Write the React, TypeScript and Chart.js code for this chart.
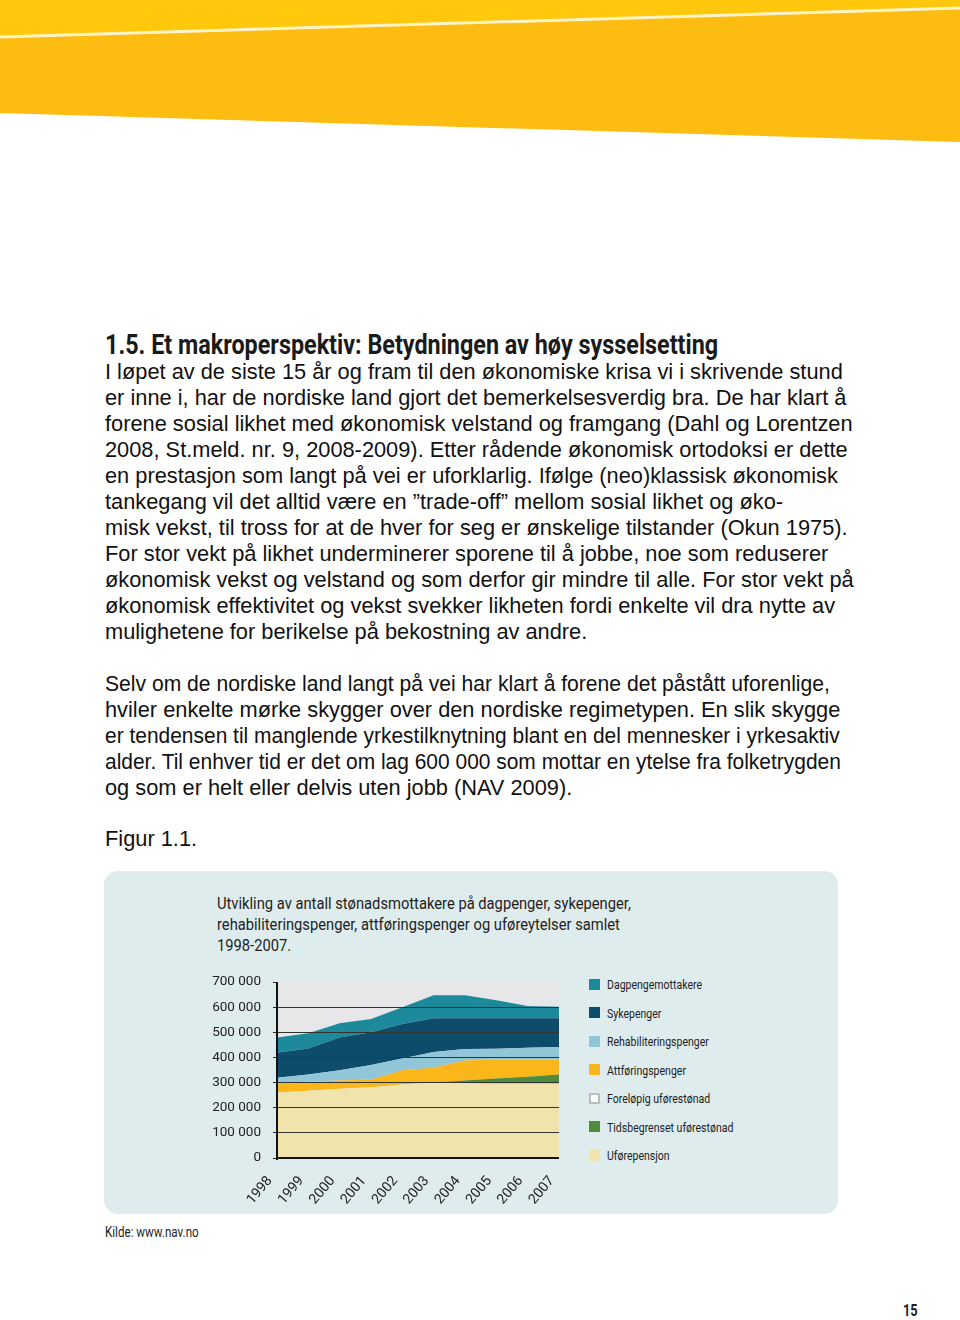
import React, { useEffect, useRef } from 'react';
import { Chart, registerables } from 'chart.js';

Chart.register(...registerables);

// ---------- data ----------
const years = ['1998', '1999', '2000', '2001', '2002', '2003', '2004', '2005', '2006', '2007'];
const uforepensjon = [261000, 267000, 275000, 281000, 292000, 300000, 297000, 296000, 296000, 296000];
const tidsbegrenset = [0, 0, 0, 0, 0, 0, 11000, 20000, 27000, 36000];
const forelopig = [0, 0, 0, 0, 0, 0, 0, 0, 0, 0];
const attforing = [31000, 36000, 33000, 31000, 57000, 59000, 80000, 76000, 69000, 60000];
const rehabilitering = [27000, 29000, 41000, 58000, 47000, 63000, 46000, 43000, 46000, 49000];
const sykepenger = [100000, 104000, 130000, 130000, 137000, 134000, 122000, 121000, 118000, 115000];
const dagpenger = [60000, 60000, 57000, 53000, 67000, 91000, 91000, 71000, 49000, 46000];

const seriesNames = [
  'Uførepensjon',
  'Tidsbegrenset uførestønad',
  'Foreløpig uførestønad',
  'Attføringspenger',
  'Rehabiliteringspenger',
  'Sykepenger',
  'Dagpengemottakere',
];
const seriesValues = [uforepensjon, tidsbegrenset, forelopig, attforing, rehabilitering, sykepenger, dagpenger];
const seriesColors = ['#F0E3AC', '#4E8B3A', '#FFFFFF', '#FBB719', '#91C6D8', '#0D4C6A', '#1D8A9B'];

const yMax = 700000;
const yStep = 100000;

const chartTitleLines = [
  'Utvikling av antall stønadsmottakere på dagpenger, sykepenger,',
  'rehabiliteringspenger, attføringspenger og uføreytelser samlet',
  '1998-2007.',
];

const para1 = [
  'I løpet av de siste 15 år og fram til den økonomiske krisa vi i skrivende stund',
  'er inne i, har de nordiske land gjort det bemerkelsesverdig bra. De har klart å',
  'forene sosial likhet med økonomisk velstand og framgang (Dahl og Lorentzen',
  '2008, St.meld. nr. 9, 2008-2009). Etter rådende økonomisk ortodoksi er dette',
  'en prestasjon som langt på vei er uforklarlig. Ifølge (neo)klassisk økonomisk',
  'tankegang vil det alltid være en \u201Dtrade-off\u201D mellom sosial likhet og øko-',
  'misk vekst, til tross for at de hver for seg er ønskelige tilstander (Okun 1975).',
  'For stor vekt på likhet underminerer sporene til å jobbe, noe som reduserer',
  'økonomisk vekst og velstand og som derfor gir mindre til alle. For stor vekt på',
  'økonomisk effektivitet og vekst svekker likheten fordi enkelte vil dra nytte av',
  'mulighetene for berikelse på bekostning av andre.',
];

const para2 = [
  'Selv om de nordiske land langt på vei har klart å forene det påstått uforenlige,',
  'hviler enkelte mørke skygger over den nordiske regimetypen. En slik skygge',
  'er tendensen til manglende yrkestilknytning blant en del mennesker i yrkesaktiv',
  'alder. Til enhver tid er det om lag 600 000 som mottar en ytelse fra folketrygden',
  'og som er helt eller delvis uten jobb (NAV 2009).',
];
const para2Squeeze = [0.968, 1, 0.961, 0.961, 1];

const CF = "Roboto, 'Liberation Sans Narrow', sans-serif";
const BF = "'Liberation Sans', Arial, Helvetica, sans-serif";

const fmt = (v: number) => (v === 0 ? '0' : `${Math.round(v / 1000)} 000`);

function AreaChart() {
  const ref = useRef<HTMLCanvasElement | null>(null);
  useEffect(() => {
    if (!ref.current) return;
    const framePlugin = {
      id: 'plotFrame',
      beforeDraw(chart: any) {
        const { ctx, chartArea } = chart;
        ctx.save();
        ctx.fillStyle = '#E7E7E9';
        ctx.fillRect(chartArea.left, chartArea.top, chartArea.right - chartArea.left, chartArea.bottom - chartArea.top);
        ctx.restore();
      },
      afterDraw(chart: any) {
        const { ctx, chartArea } = chart;
        ctx.save();
        ctx.strokeStyle = '#111';
        ctx.lineWidth = 2;
        ctx.beginPath();
        ctx.moveTo(chartArea.left, chartArea.top);
        ctx.lineTo(chartArea.left, chartArea.bottom + 2);
        ctx.moveTo(chartArea.left - 1, chartArea.bottom);
        ctx.lineTo(chartArea.right, chartArea.bottom);
        ctx.stroke();
        ctx.restore();
      },
    };
    const chart = new Chart(ref.current, {
      type: 'line',
      data: {
        labels: years,
        datasets: seriesNames.map((name, i) => ({
          label: name,
          data: seriesValues[i],
          backgroundColor: seriesColors[i],
          borderColor: seriesColors[i],
          borderWidth: 0,
          pointRadius: 0,
          tension: 0,
          fill: i === 0 ? 'origin' : '-1',
          stack: 'all',
        })),
      },
      options: {
        animation: false,
        responsive: false,
        maintainAspectRatio: false,
        layout: { autoPadding: false, padding: { top: 12, right: 11, left: 0, bottom: 0 } },
        plugins: { legend: { display: false }, tooltip: { enabled: false }, title: { display: false } },
        scales: {
          x: {
            type: 'category',
            offset: false,
            grid: { display: false },
            border: { display: false },
            ticks: {
              color: '#222',
              font: { family: CF, size: 14 },
              minRotation: 50,
              maxRotation: 50,
              padding: 7,
              labelOffset: -7,
              autoSkip: false,
            },
            afterFit: (s: any) => {
              s.height = 52;
              s.paddingLeft = 0;
              s.paddingRight = 0;
              s.paddingTop = 0;
              s.paddingBottom = 0;
            },
          },
          y: {
            stacked: true,
            min: 0,
            max: yMax,
            grid: {
              z: 1,
              color: (c: any) => (c.tick && (c.tick.value === 0 || c.tick.value === yMax) ? 'rgba(0,0,0,0)' : '#333'),
              lineWidth: 1,
              tickLength: 4,
              tickColor: '#222',
            },
            border: { display: false },
            ticks: {
              stepSize: yStep,
              color: '#222',
              font: { family: CF, size: 13.5 },
              padding: 12,
              callback: (v: any) => fmt(Number(v)),
            },
            afterFit: (s: any) => {
              s.width = 77;
              s.paddingTop = 0;
              s.paddingBottom = 0;
              s.paddingLeft = 0;
              s.paddingRight = 0;
            },
          },
        },
      },
      plugins: [framePlugin],
    });
    return () => chart.destroy();
  }, []);
  return (
    <canvas
      ref={ref}
      width={370}
      height={240}
      style={{ position: 'absolute', left: 200, top: 970, width: 370, height: 240 }}
    />
  );
}

const narrow = (sx: number): React.CSSProperties => ({
  transform: `scaleX(${sx})`,
  transformOrigin: 'left center',
  whiteSpace: 'nowrap',
});

export default function App() {
  const legendOrder = [...seriesNames.keys()].reverse();
  return (
    <div style={{ position: 'absolute', left: 0, top: 0, width: 960, height: 1320, overflow: 'hidden', background: '#fff' }}>
      <svg width={960} height={160} style={{ position: 'absolute', left: 0, top: 0 }}>
        <polygon points="0,0 960,0 960,142 0,113" fill="#FDBC12" />
        <polygon points="0,0 960,0 960,8 0,36" fill="#FFC80C" />
        <line x1={0} y1={37} x2={960} y2={8} stroke="#FFF4C8" strokeWidth={3} />
      </svg>

      <div
        style={{
          position: 'absolute',
          left: 105,
          top: 330,
          fontFamily: CF,
          fontWeight: 'bold',
          fontSize: 27,
          lineHeight: '30px',
          color: '#1a1a1a',
          ...narrow(0.865),
        }}
      >
        1.5. Et makroperspektiv: Betydningen av høy sysselsetting
      </div>

      <div style={{ position: 'absolute', left: 105, top: 359, fontFamily: BF, fontSize: 21.8, lineHeight: '26px', color: '#111' }}>
        {para1.map((l, i) => (
          <div key={i} style={{ whiteSpace: 'nowrap' }}>{l}</div>
        ))}
      </div>

      <div style={{ position: 'absolute', left: 105, top: 671, fontFamily: BF, fontSize: 21.8, lineHeight: '26px', color: '#111' }}>
        {para2.map((l, i) => (
          <div key={i} style={narrow(para2Squeeze[i])}>{l}</div>
        ))}
      </div>

      <div style={{ position: 'absolute', left: 105, top: 826, fontFamily: BF, fontSize: 21.8, lineHeight: '26px', color: '#111' }}>
        Figur 1.1.
      </div>

      <div
        style={{
          position: 'absolute',
          left: 104,
          top: 871,
          width: 734,
          height: 343,
          background: '#DFECEE',
          borderRadius: 14,
        }}
      />

      <div style={{ position: 'absolute', left: 217, top: 893, fontFamily: CF, fontSize: 17, lineHeight: '21px', color: '#1e1e1e' }}>
        {chartTitleLines.map((l, i) => (
          <div key={i} style={narrow(0.866)}>{l}</div>
        ))}
      </div>

      <AreaChart />

      {legendOrder.map((idx, k) => {
        const cy = 984 + k * 28.5;
        return (
          <div key={idx} style={{ position: 'absolute', left: 589, top: cy - 8, height: 16, display: 'flex', alignItems: 'center' }}>
            <div
              style={{
                width: 11,
                height: 11,
                boxSizing: 'border-box',
                background: seriesColors[idx],
                border: seriesColors[idx] === '#FFFFFF' ? '2px solid #BDBDBD' : 'none',
              }}
            />
            <div style={{ marginLeft: 7, fontFamily: CF, fontSize: 13.5, color: '#1e1e1e', ...narrow(0.78) }}>
              {seriesNames[idx]}
            </div>
          </div>
        );
      })}

      <div style={{ position: 'absolute', left: 105, top: 1224, fontFamily: CF, fontSize: 14, lineHeight: '16px', color: '#1e1e1e', ...narrow(0.83) }}>
        Kilde: www.nav.no
      </div>

      <div style={{ position: 'absolute', left: 903, top: 1302, fontFamily: CF, fontWeight: 'bold', fontSize: 16, lineHeight: '18px', color: '#1e1e1e', ...narrow(0.8) }}>
        15
      </div>
    </div>
  );
}
